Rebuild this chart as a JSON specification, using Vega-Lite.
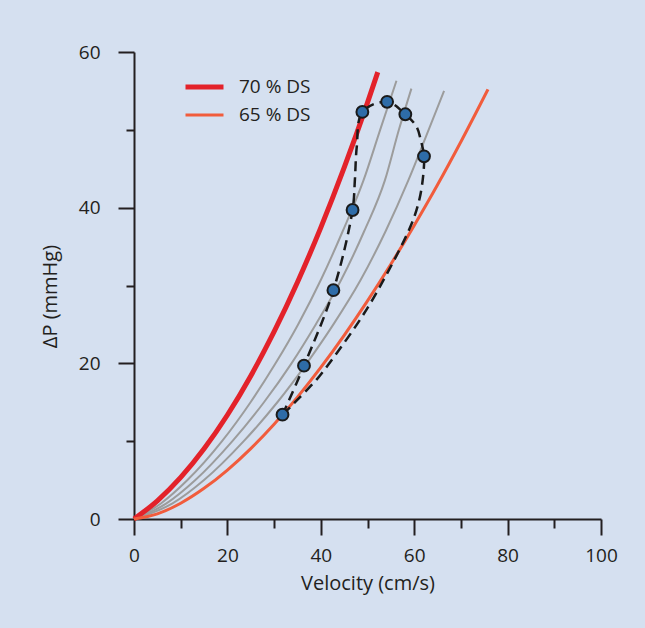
{
  "$schema": "https://vega.github.io/schema/vega-lite/v6.json",
  "width": 467,
  "height": 467,
  "autosize": "none",
  "padding": {"left": 134, "top": 52, "right": 44, "bottom": 109},
  "background": "#d5e0f0",
  "config": {
    "view": {"stroke": null},
    "font": "Open Sans",
    "axis": {
      "domainColor": "#231f20", "domainWidth": 2, "tickColor": "#231f20", "tickWidth": 2,
      "labelFont": "Open Sans", "labelFontSize": 19, "labelColor": "#231f20",
      "titleFont": "Open Sans", "titleFontSize": 20, "titleFontWeight": "normal", "titleColor": "#231f20",
      "grid": false
    },
    "legend": {
      "orient": "none", "legendX": 49, "legendY": 21, "padding": 0,
      "symbolType": "stroke", "symbolSize": 1444, "clipHeight": 28, "rowPadding": 0,
      "labelFont": "Open Sans", "labelFontSize": 19, "labelColor": "#231f20", "labelOffset": 13,
      "title": null
    }
  },
  "datasets": {
    "gray": [
      {"curve": "a", "v": 0, "p": 0}, {"curve": "a", "v": 5.77, "p": 2}, {"curve": "a", "v": 11.45, "p": 5}, {"curve": "a", "v": 18.85, "p": 10}, {"curve": "a", "v": 24.96, "p": 15}, {"curve": "a", "v": 30.31, "p": 20}, {"curve": "a", "v": 35.14, "p": 25}, {"curve": "a", "v": 40.0, "p": 30.7}, {"curve": "a", "v": 44.71, "p": 37}, {"curve": "a", "v": 49.14, "p": 43.5}, {"curve": "a", "v": 52.71, "p": 50}, {"curve": "a", "v": 56.2, "p": 56.3},
      {"curve": "b", "v": 0, "p": 0}, {"curve": "b", "v": 6.95, "p": 2}, {"curve": "b", "v": 13.14, "p": 5}, {"curve": "b", "v": 21.07, "p": 10}, {"curve": "b", "v": 27.83, "p": 15}, {"curve": "b", "v": 33.73, "p": 20}, {"curve": "b", "v": 38.92, "p": 25}, {"curve": "b", "v": 44.35, "p": 30.7}, {"curve": "b", "v": 49.31, "p": 37}, {"curve": "b", "v": 53.72, "p": 43.5}, {"curve": "b", "v": 56.72, "p": 50}, {"curve": "b", "v": 59.4, "p": 55.3},
      {"curve": "c", "v": 0, "p": 0}, {"curve": "c", "v": 8.25, "p": 2}, {"curve": "c", "v": 15.0, "p": 5}, {"curve": "c", "v": 23.5, "p": 10}, {"curve": "c", "v": 30.7, "p": 15}, {"curve": "c", "v": 36.99, "p": 20}, {"curve": "c", "v": 42.7, "p": 25}, {"curve": "c", "v": 48.52, "p": 30.7}, {"curve": "c", "v": 53.9, "p": 37}, {"curve": "c", "v": 58.74, "p": 43.5}, {"curve": "c", "v": 63.09, "p": 50}, {"curve": "c", "v": 66.4, "p": 55.0}
    ],
    "ds": [
      {"series": "70 % DS", "v": 0, "p": 0}, {"series": "70 % DS", "v": 5, "p": 2.34}, {"series": "70 % DS", "v": 10, "p": 5.34}, {"series": "70 % DS", "v": 15, "p": 9.02}, {"series": "70 % DS", "v": 20, "p": 13.36}, {"series": "70 % DS", "v": 25, "p": 18.38}, {"series": "70 % DS", "v": 30, "p": 24.06}, {"series": "70 % DS", "v": 35, "p": 30.42}, {"series": "70 % DS", "v": 40, "p": 37.44}, {"series": "70 % DS", "v": 45, "p": 45.14}, {"series": "70 % DS", "v": 50, "p": 53.5}, {"series": "70 % DS", "v": 52.2, "p": 57.41},
      {"series": "65 % DS", "v": 0, "p": 0}, {"series": "65 % DS", "v": 5, "p": 0.66}, {"series": "65 % DS", "v": 10, "p": 2.03}, {"series": "65 % DS", "v": 15, "p": 3.94}, {"series": "65 % DS", "v": 20, "p": 6.29}, {"series": "65 % DS", "v": 25, "p": 9.05}, {"series": "65 % DS", "v": 30, "p": 12.18}, {"series": "65 % DS", "v": 35, "p": 15.66}, {"series": "65 % DS", "v": 40, "p": 19.47}, {"series": "65 % DS", "v": 45, "p": 23.6}, {"series": "65 % DS", "v": 50, "p": 28.03}, {"series": "65 % DS", "v": 55, "p": 32.74}, {"series": "65 % DS", "v": 60, "p": 37.72}, {"series": "65 % DS", "v": 65, "p": 42.94}, {"series": "65 % DS", "v": 70, "p": 48.47}, {"series": "65 % DS", "v": 75.8, "p": 55.2}
    ],
    "loop": [
      {"i": 1, "v": 31.8, "p": 13.4}, {"i": 2, "v": 36.4, "p": 19.7}, {"i": 3, "v": 42.7, "p": 29.4}, {"i": 4, "v": 46.8, "p": 39.7}, {"i": 5, "v": 47.3, "p": 43.6}, {"i": 6, "v": 47.7, "p": 47.8}, {"i": 7, "v": 48.9, "p": 52.3}, {"i": 8, "v": 54.2, "p": 53.6}, {"i": 9, "v": 58.1, "p": 52.0}, {"i": 10, "v": 60.5, "p": 50.4}, {"i": 11, "v": 61.4, "p": 48.7}, {"i": 12, "v": 62.1, "p": 46.6},
      {"i": 13, "v": 61.9, "p": 44.0}, {"i": 14, "v": 61.2, "p": 41.3}, {"i": 15, "v": 60.0, "p": 38.8}, {"i": 16, "v": 58.4, "p": 36.5}, {"i": 17, "v": 56.6, "p": 34.3}, {"i": 18, "v": 54.6, "p": 32.0}, {"i": 19, "v": 52.6, "p": 29.8}, {"i": 20, "v": 50.5, "p": 27.6}, {"i": 21, "v": 48.4, "p": 25.6}, {"i": 22, "v": 45.9, "p": 23.4}, {"i": 23, "v": 43.4, "p": 21.3}, {"i": 24, "v": 41.2, "p": 19.5}, {"i": 25, "v": 39.1, "p": 17.9}, {"i": 26, "v": 36.9, "p": 16.5}, {"i": 27, "v": 34.8, "p": 15.2}, {"i": 28, "v": 33.2, "p": 14.2}, {"i": 29, "v": 31.8, "p": 13.4}
    ],
    "points": [
      {"v": 31.8, "p": 13.4}, {"v": 36.4, "p": 19.7}, {"v": 42.7, "p": 29.4}, {"v": 46.8, "p": 39.7}, {"v": 48.9, "p": 52.3}, {"v": 54.2, "p": 53.6}, {"v": 58.1, "p": 52.0}, {"v": 62.1, "p": 46.6}
    ]
  },
  "encoding": {
    "x": {
      "field": "v", "type": "quantitative",
      "scale": {"domain": [0, 100], "nice": false, "zero": false},
      "axis": {
        "title": "Velocity (cm/s)",
        "values": [0, 10, 20, 30, 40, 50, 60, 70, 80, 90, 100],
        "labelExpr": "datum.value % 20 === 0 ? datum.label : ''",
        "tickSize": {"condition": {"test": "datum.value % 20 === 0", "value": 16}, "value": 9},
        "labelPadding": 11, "titlePadding": 8, "labelFlush": false
      }
    },
    "y": {
      "field": "p", "type": "quantitative",
      "scale": {"domain": [0, 60], "nice": false, "zero": false},
      "axis": {
        "title": "ΔP (mmHg)",
        "values": [0, 10, 20, 30, 40, 50, 60],
        "labelExpr": "datum.value % 20 === 0 ? datum.label : ''",
        "tickSize": {"condition": {"test": "datum.value % 20 === 0", "value": 16}, "value": 8},
        "labelPadding": 18, "titlePadding": 18, "titleY": 244, "labelFlush": false
      }
    }
  },
  "layer": [
    {
      "data": {"name": "gray"},
      "mark": {"type": "line", "color": "#9c9c9c", "strokeWidth": 2, "interpolate": "monotone"},
      "encoding": {"detail": {"field": "curve", "type": "nominal"}}
    },
    {
      "data": {"name": "ds"},
      "mark": {"type": "line", "interpolate": "monotone"},
      "encoding": {
        "color": {"field": "series", "type": "nominal", "scale": {"domain": ["70 % DS", "65 % DS"], "range": ["#e3222a", "#f15c3c"]}},
        "strokeWidth": {"field": "series", "type": "nominal", "scale": {"domain": ["70 % DS", "65 % DS"], "range": [5, 3]}}
      }
    },
    {
      "data": {"name": "loop"},
      "mark": {"type": "line", "color": "#1a1a1a", "strokeWidth": 2.5, "strokeDash": [10, 6], "interpolate": "catmull-rom"},
      "encoding": {"order": {"field": "i", "type": "quantitative"}}
    },
    {
      "data": {"name": "points"},
      "mark": {"type": "circle", "fill": "#2e6ca8", "stroke": "#1a1a1a", "strokeWidth": 2, "size": 140, "opacity": 1}
    }
  ]
}
